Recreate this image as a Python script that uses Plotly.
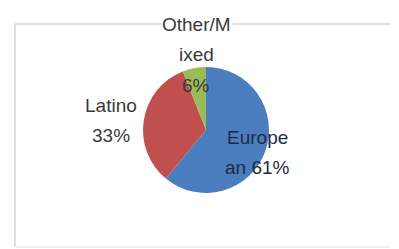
import plotly.graph_objects as go

OFF = 8  # page body margin offset of the plot div
W, H = 399 - OFF, 249 - OFF

categories = ["European", "Latino", "Other/Mixed"]
values = [61, 33, 6]
colors = ["#4a7ebf", "#c0504d", "#9bbb59"]

# wrapped label lines as drawn in the chart
label_lines = [
    ["Europe", f"an {values[0]}%"],
    ["Latino", f"{values[1]}%"],
    ["Other/M", "ixed", f"{values[2]}%"],
]
# label anchor (screen pixel centre of first line) and colour
label_pos = [(257, 137), (111, 105), (196, 25)]
label_color = ["#1d2b45", "#3a3a3a", "#3a3a3a"]
LINE_STEP = 30

def px(x):
    return (x - OFF) / W

def py(y):
    return 1 - (y - OFF) / H

cx, cy, r = 206, 130, 63

fig = go.Figure(go.Pie(
    labels=categories,
    values=values,
    sort=False,
    direction="clockwise",
    rotation=0,
    marker=dict(colors=colors, line=dict(width=0)),
    textinfo="none",
    hoverinfo="label+percent",
    showlegend=False,
    domain=dict(x=[px(cx - r), px(cx + r)], y=[py(cy + r), py(cy - r)]),
))

annotations = []
for i, lines in enumerate(label_lines):
    x0, y0 = label_pos[i]
    for j, t in enumerate(lines):
        annotations.append(dict(
            x=px(x0), y=py(y0 + j * LINE_STEP), xref="paper", yref="paper",
            text=t, showarrow=False, xanchor="center", yanchor="middle",
            font=dict(family="Liberation Sans, Arial, sans-serif", size=19,
                      color=label_color[i]),
            bgcolor="white" if (i == 2 and j == 0) else None,
            borderpad=0,
        ))

frame = dict(color="#d6d6d6", width=1.5)
fig.update_layout(
    width=W, height=H,
    margin=dict(l=0, r=0, t=0, b=0),
    paper_bgcolor="white",
    plot_bgcolor="white",
    annotations=annotations,
    shapes=[
        dict(type="line", xref="paper", yref="paper", x0=px(15), x1=1,
             y0=py(24), y1=py(24), line=frame, layer="below"),
        dict(type="line", xref="paper", yref="paper", x0=px(15), x1=px(15),
             y0=py(24), y1=py(247), line=frame, layer="below"),
        dict(type="line", xref="paper", yref="paper", x0=px(15), x1=1,
             y0=py(247), y1=py(247), line=dict(color="#ececec", width=1.5),
             layer="below"),
    ],
)

fig.write_html("out.html")
